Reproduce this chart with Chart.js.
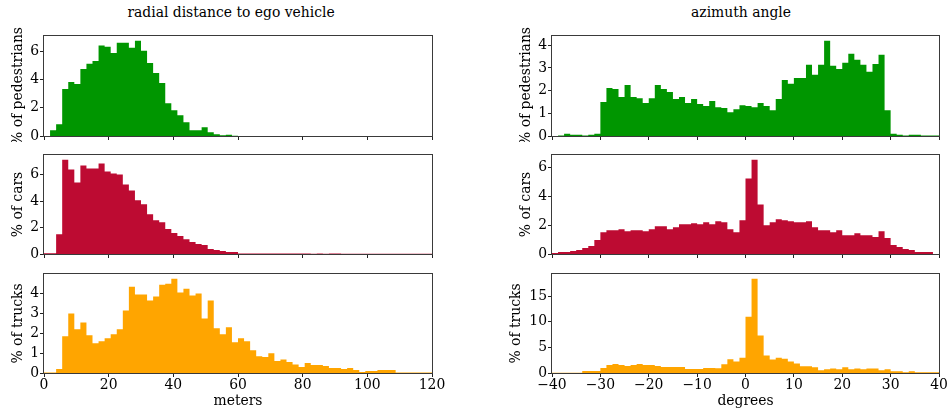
<!DOCTYPE html>
<html>
<head>
<meta charset="utf-8">
<script src="https://cdn.jsdelivr.net/npm/chart.js@4.4.1/dist/chart.umd.min.js"></script>
<style>
  body { margin: 0; background: #fff; }
  #fig { position: relative; width: 948px; height: 412px; overflow: hidden; font-family: 'DejaVu Serif', serif; }
  #fig canvas { position: absolute; }
  .title { position: absolute; top: 4px; font-size: 13.9px; line-height: 16px; white-space: nowrap; transform: translateX(-50%); color: #000; }
</style>
</head>
<body>
<div id="fig">
  <div class="title" style="left:231px">radial distance to ego vehicle</div>
  <div class="title" style="left:741px">azimuth angle</div>
  <canvas id="pedDist" width="448" height="142" style="left:0;top:0"></canvas>
  <canvas id="carDist" width="448" height="122" style="left:0;top:140px"></canvas>
  <canvas id="truckDist" width="448" height="152" style="left:0;top:260px"></canvas>
  <canvas id="pedAngle" width="440" height="142" style="left:508px;top:0"></canvas>
  <canvas id="carAngle" width="440" height="122" style="left:508px;top:140px"></canvas>
  <canvas id="truckAngle" width="440" height="152" style="left:508px;top:260px"></canvas>
</div>
<script>
// histogram bins: 64 bins, distance 0..120 m, azimuth -40..40 deg
const distBinStart = 0, distBinWidth = 1.875;
const angleBinStart = -40, angleBinWidth = 1.25;
const distTicks = [0, 20, 40, 60, 80, 100, 120];
const angleTicks = [-40, -30, -20, -10, 0, 10, 20, 30, 40];

// % per bin
const pedDist = [0, 0.4, 0.83, 3.33, 3.83, 3.69, 4.76, 5.12, 5.33, 6.43, 6.33, 5.9, 6.62, 6.62, 6.26, 6.76,
  6.05, 5.19, 4.48, 3.76, 2.33, 1.83, 1.48, 0.98, 0.4, 0.4, 0.62, 0.26, 0.12, 0.05, 0.08, 0.02,
  0, 0, 0, 0, 0, 0, 0, 0, 0, 0, 0, 0, 0, 0, 0, 0,
  0, 0, 0, 0, 0, 0, 0, 0, 0, 0, 0, 0, 0, 0, 0, 0];
const carDist = [0.05, 0.05, 1.5, 7.12, 6.38, 5.4, 6.68, 6.45, 6.45, 6.83, 6.23, 6.08, 6.0, 5.25, 4.8, 4.05,
  3.75, 3.0, 2.55, 2.4, 1.88, 1.58, 1.35, 1.12, 0.9, 0.75, 0.68, 0.38, 0.3, 0.22, 0.15, 0.15,
  0.04, 0.03, 0.03, 0.03, 0.03, 0.03, 0.03, 0.03, 0.03, 0.03, 0.03, 0.03, 0.02, 0.03, 0.02, 0.03,
  0.03, 0.02, 0.01, 0.02, 0.01, 0.01, 0.01, 0.01, 0.01, 0.01, 0.01, 0.01, 0.01, 0.01, 0.01, 0.01];
const truckDist = [0.02, 0.02, 0.2, 1.85, 3.0, 2.2, 2.55, 1.9, 1.5, 1.6, 1.75, 1.95, 2.2, 3.15, 4.35, 3.95,
  3.95, 3.65, 3.85, 4.45, 4.5, 4.75, 4.05, 4.25, 3.9, 4.0, 2.75, 3.65, 2.25, 1.95, 2.3, 1.55,
  1.75, 1.6, 1.15, 0.85, 0.8, 1.0, 0.6, 0.68, 0.55, 0.43, 0.3, 0.5, 0.4, 0.4, 0.35, 0.25,
  0.25, 0.2, 0.25, 0.15, 0.05, 0.1, 0.1, 0.15, 0.15, 0.15, 0.02, 0.02, 0.02, 0.02, 0.02, 0.02];
const pedAngle = [0, 0.02, 0.1, 0.05, 0.05, 0.02, 0.05, 0.1, 1.5, 2.12, 2.07, 1.72, 2.25, 1.72, 1.67, 1.45,
  1.67, 2.25, 2.07, 1.94, 1.63, 1.72, 1.45, 1.63, 1.41, 1.32, 1.54, 1.27, 1.23, 1.05, 1.18, 1.36,
  1.32, 1.27, 1.45, 1.32, 1.14, 1.63, 2.47, 2.3, 2.56, 2.56, 3.14, 2.7, 3.14, 4.2, 3.1, 2.96,
  3.23, 3.63, 3.36, 3.14, 2.83, 3.18, 3.58, 1.14, 0.1, 0.05, 0.02, 0.05, 0.05, 0.02, 0.02, 0.02];
const carAngle = [0.07, 0.14, 0.14, 0.2, 0.27, 0.41, 0.55, 0.96, 1.51, 1.65, 1.65, 1.72, 1.58, 1.65, 1.65, 1.58,
  1.72, 1.92, 1.92, 1.72, 1.85, 2.06, 2.06, 2.13, 2.06, 2.2, 2.06, 2.27, 2.2, 1.72, 1.51, 2.33,
  5.22, 6.52, 3.43, 1.99, 2.2, 2.4, 2.33, 2.27, 2.2, 2.2, 2.27, 1.85, 1.65, 1.65, 1.51, 1.65,
  1.3, 1.3, 1.44, 1.3, 1.3, 1.17, 1.58, 1.1, 0.62, 0.48, 0.34, 0.27, 0.14, 0.14, 0.14, 0];
const truckAngle = [0.03, 0.03, 0.03, 0.03, 0.03, 0.4, 0.4, 0.4, 0.97, 1.55, 1.75, 1.55, 1.36, 1.55, 1.75, 1.55,
  1.55, 1.36, 1.16, 1.16, 1.16, 1.16, 0.78, 0.78, 0.78, 0.97, 0.97, 0.93, 1.72, 2.67, 2.26, 3.0,
  11.0, 18.4, 7.3, 3.4, 2.65, 3.0, 2.8, 2.26, 1.87, 1.3, 1.3, 1.1, 0.52, 0.71, 0.9, 0.71,
  1.1, 0.71, 0.9, 0.71, 0.9, 0.9, 0.52, 0.71, 0.32, 0.32, 0.13, 0.32, 0.13, 0.13, 0.13, 0.13];

const pedDistTicks = [0, 2, 4, 6];
const carDistTicks = [0, 2, 4, 6];
const truckDistTicks = [0, 1, 2, 3, 4];
const pedAngleTicks = [0, 1, 2, 3, 4];
const carAngleTicks = [0, 2, 4, 6];
const truckAngleTicks = [0, 5, 10, 15];

const green = '#009600', crimson = '#bd0b32', orange = '#ffa500';

Chart.defaults.font.family = "'DejaVu Serif', serif";
Chart.defaults.font.size = 13.9;
Chart.defaults.color = '#000';

// axes box like matplotlib spines
const frame = {
  id: 'frame',
  afterDraw(chart) {
    const { ctx, chartArea: a } = chart;
    ctx.save();
    ctx.strokeStyle = '#3a3a3a';
    ctx.lineWidth = 1;
    ctx.strokeRect(Math.round(a.left) - 0.5, Math.round(a.top) - 0.5,
      Math.round(a.right) - Math.round(a.left) + 1, Math.round(a.bottom) - Math.round(a.top) + 1);
    ctx.restore();
  }
};

const minus = v => (v < 0 ? '\u2212' + Math.abs(v) : String(v));

// histogram drawn as one filled step outline, one point per bin edge
function histogram(id, values, color, binStart, binWidth, xTicks, yTicks, yLabel, row, col) {
  const edges = values.concat([values[values.length - 1]])
    .map((v, i) => ({ x: binStart + i * binWidth, y: v }));
  const bottomRow = row === 2;
  const pad = [{ top: 36, bottom: 0 }, { top: 15, bottom: 2 }, { top: 14, bottom: 0 }][row];
  // two-digit tick labels push the y label further left, as in matplotlib
  const yTitlePad = yTicks[yTicks.length - 1] >= 10 ? 0 : 10;
  new Chart(document.getElementById(id), {
    type: 'line',
    data: {
      datasets: [{
        data: edges,
        stepped: 'before',
        fill: 'origin',
        backgroundColor: color,
        borderColor: 'rgba(0,0,0,0)',
        borderWidth: 0,
        pointRadius: 0,
        pointHoverRadius: 0
      }]
    },
    options: {
      responsive: false,
      animation: false,
      events: [],
      layout: { padding: { left: 0, right: col === 0 ? 16 : 9, top: pad.top, bottom: pad.bottom } },
      plugins: { legend: { display: false }, tooltip: { enabled: false } },
      scales: {
        x: {
          type: 'linear',
          offset: false,
          min: xTicks[0],
          max: xTicks[xTicks.length - 1],
          afterBuildTicks: s => { s.ticks = xTicks.map(v => ({ value: v })); },
          afterFit: s => { s.height = bottomRow ? 39 : 6; s.paddingLeft = 0; s.paddingRight = 0; },
          border: { display: false },
          grid: { drawOnChartArea: false, drawTicks: true, tickLength: 4, color: '#222' },
          ticks: { display: bottomRow, padding: 0, maxRotation: 0, autoSkip: false, callback: minus },
          title: {
            display: bottomRow,
            text: col === 0 ? 'meters' : 'degrees',
            padding: { top: 0, bottom: 2 }
          }
        },
        y: {
          min: 0,
          max: Math.max(...values) * 1.05,
          afterBuildTicks: s => { s.ticks = yTicks.map(v => ({ value: v })); },
          afterFit: s => { s.width = 44; s.paddingTop = 0; s.paddingBottom = 0; },
          border: { display: false },
          grid: { drawOnChartArea: false, drawTicks: true, tickLength: 4, color: '#222' },
          ticks: { padding: 1, autoSkip: false, callback: minus },
          title: { display: true, text: yLabel, padding: { top: yTitlePad, bottom: 0 } }
        }
      }
    },
    plugins: [frame]
  });
}

histogram('pedDist', pedDist, green, distBinStart, distBinWidth, distTicks, pedDistTicks, '% of pedestrians', 0, 0);
histogram('carDist', carDist, crimson, distBinStart, distBinWidth, distTicks, carDistTicks, '% of cars', 1, 0);
histogram('truckDist', truckDist, orange, distBinStart, distBinWidth, distTicks, truckDistTicks, '% of trucks', 2, 0);
histogram('pedAngle', pedAngle, green, angleBinStart, angleBinWidth, angleTicks, pedAngleTicks, '% of pedestrians', 0, 1);
histogram('carAngle', carAngle, crimson, angleBinStart, angleBinWidth, angleTicks, carAngleTicks, '% of cars', 1, 1);
histogram('truckAngle', truckAngle, orange, angleBinStart, angleBinWidth, angleTicks, truckAngleTicks, '% of trucks', 2, 1);
</script>
</body>
</html>
